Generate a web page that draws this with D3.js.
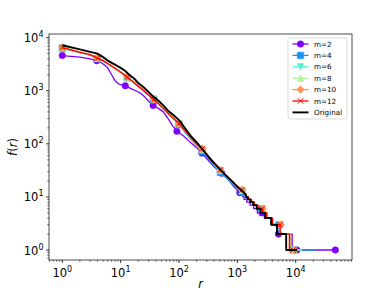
<!DOCTYPE html>
<html lang="en">
<head>
<meta charset="UTF-8">
<title>f(r)</title>
<script src="https://cdn.jsdelivr.net/npm/d3@7/dist/d3.min.js"></script>
<style>
  body { margin: 0; background: #fff; }
  svg text { font-family: "DejaVu Sans", sans-serif; fill: #000; }
</style>
</head>
<body>
<div id="chart"></div>
<script>
// series names and colours (rainbow colormap, 6 steps + black)
var names = ["m=2", "m=4", "m=6", "m=8", "m=10", "m=12", "Original"];
var colors = ["#8000ff", "#1996f3", "#4df3ce", "#b3f396", "#ff964f", "#ff0000", "#000000"];
var shapes = ["o", "s", "v", "^", "D", "x", null];

// head of each rank/frequency curve: [rank, frequency]
var headM2 = [[1,4600],[2,4300],[3,4000],[3.9,3700],[4.3,3550],[5,3200],[6,2700],[7,2000],[8,1550],[9,1380],[10,1300],[12,1240],[15,1100],[18,1000],[22,900],[26,760],[30,640],[36,527],[45,460],[54,400],[65,300],[75,230],[92,175],[120,140],[152,110],[200,85],[246,67],[300,52],[400,37],[540,28],[700,21],[900,15],[1100,12],[1250,11]];
var headM4 = [[1,6300],[2,5200],[3,4700],[4,4000],[5,3600],[6,3150],[8,2600],[10,2200],[13,1750],[17,1380],[20,1200],[25,980],[30,820],[37,670],[45,560],[55,450],[70,340],[85,275],[100,230],[130,160],[160,122],[200,94],[250,72],[340,48],[510,29],[700,21],[900,16],[1200,12.5],[1350,11]];
var headM6 = [[1,6400],[2,5250],[3,4750],[4,4050],[5,3650],[6,3200],[8,2620],[10,2230],[13,1780],[17,1400],[20,1210],[25,1000],[30,840],[37,700],[45,570],[55,455],[70,345],[85,280],[100,236],[130,165],[160,126],[200,97],[250,76],[340,51],[510,31],[700,22],[900,17],[1200,13],[1380,11]];
var headM8 = [[1,6450],[2,5300],[3,4780],[4,4080],[5,3680],[6,3230],[8,2640],[10,2240],[13,1800],[17,1410],[20,1215],[25,1000],[30,835],[37,690],[45,565],[55,455],[70,345],[85,283],[100,240],[130,168],[160,128],[200,99],[250,78],[340,53],[510,31.5],[700,22.5],[900,17.3],[1200,13.3],[1400,11]];
var headM10 = [[1,6600],[2,5400],[3,4800],[4,4200],[5,3700],[6,3300],[8,2700],[10,2250],[13,1850],[17,1450],[20,1250],[25,1020],[30,840],[37,690],[45,570],[55,460],[70,350],[85,290],[100,245],[130,172],[160,132],[200,102],[250,82],[340,55],[510,32],[700,23],[900,17.5],[1200,13.8],[1400,11]];
var headM12 = [[1,6500],[2,5300],[3,4800],[4,4100],[5,3700],[6,3250],[8,2650],[10,2250],[13,1800],[17,1420],[20,1220],[25,1000],[30,830],[37,680],[45,560],[55,455],[70,345],[85,285],[100,240],[130,170],[160,130],[200,100],[250,80],[340,54],[510,32],[700,23],[900,17.5],[1200,13.5],[1400,11]];
var headOrig = [[1,7200],[2,6000],[3,5400],[4,5000],[5,4300],[6,3700],[8,3100],[10,2700],[12,2350],[14,2000],[17,1700],[20,1400],[25,1150],[30,950],[36,780],[45,640],[55,520],[65,420],[80,350],[100,280],[130,190],[160,140],[200,108],[250,80],[340,52],[450,38],[600,27],[800,20],[1000,15.5],[1200,13],[1400,11]];

// last rank holding frequency 10, 9, ..., 1 (integer tail of each curve)
var stepsM2 = [1300,1450,1650,1900,2200,2900,3800,4800,8700,47800];
var stepsM4 = [1450,1650,1850,2150,2600,3100,3900,5200,7900,21600];
var stepsM6 = [1500,1700,1900,2200,2650,3150,3950,5300,8100,13000];
var stepsM8 = [1520,1720,1930,2230,2680,3180,3980,5350,7900,12000];
var stepsM10 = [1550,1750,1980,2280,2750,3250,4050,5500,8000,11000];
var stepsM12 = [1550,1750,1950,2250,2700,3200,4000,5400,7800,10500];
var stepsOrig = [1500,1670,1875,2140,2500,3000,3800,4800,6870,10600];

// marker positions
var marksM2 = [[1,4630],[3.9,3680],[12,1240],[36,527],[92,172],[246,67],[540,28],[1100,12],[2630,5],[5050,2],[10500,1],[47800,1]];
var marksM4 = [[1,6300],[4,4000],[13,1750],[37,670],[100,230],[250,72],[510,29],[1200,12.5],[2600,6],[5200,3],[9000,1]];
var marksM6 = [[1,6400],[4,4050],[13,1780],[37,700],[100,236],[250,76],[510,31],[1200,13],[2620,6],[5300,3],[9100,1]];
var marksM8 = [[1,6450],[4,4080],[13,1800],[37,690],[100,240],[250,78],[510,31.5],[1200,13.3],[2650,6],[5350,3],[9200,1]];
var marksM10 = [[1,6600],[4,4200],[13,1850],[37,690],[100,245],[250,82],[510,32],[1200,13.8],[2700,6],[5500,3],[9500,1]];
var marksM12 = [[1,6500],[4,4100],[13,1800],[37,680],[100,240],[250,80],[510,32],[1200,13.5],[2640,6],[5400,3],[9000,1]];

var heads = [headM2, headM4, headM6, headM8, headM10, headM12, headOrig];
var steps = [stepsM2, stepsM4, stepsM6, stepsM8, stepsM10, stepsM12, stepsOrig];
var marks = [marksM2, marksM4, marksM6, marksM8, marksM10, marksM12, []];

var xTicks = [1, 10, 100, 1000, 10000];
var yTicks = [1, 10, 100, 1000, 10000];

var width = 390, height = 293;
var pLeft = 49, pRight = 352, pTop = 34, pBottom = 260;

var svg = d3.select("#chart").append("svg")
    .attr("width", width)
    .attr("height", height);

var x = d3.scaleLog()
    .domain([Math.pow(10, -0.228), Math.pow(10, 4.965)])
    .range([pLeft, pRight]);
var y = d3.scaleLog()
    .domain([Math.pow(10, -0.188), Math.pow(10, 4.069)])
    .range([pBottom, pTop]);

svg.append("clipPath").attr("id", "clip")
  .append("rect")
    .attr("x", pLeft).attr("y", pTop)
    .attr("width", pRight - pLeft).attr("height", pBottom - pTop);

// build curve: smooth head then integer staircase
function buildPoints(head, st) {
    var pts = head.slice();
    var prev = head[head.length - 1][0];
    for (var i = 0; i < st.length; i++) {
        var f = 10 - i;
        pts.push([prev, f]);
        pts.push([st[i], f]);
        prev = st[i];
    }
    return pts;
}

var line = d3.line()
    .x(function(d) { return x(d[0]); })
    .y(function(d) { return y(d[1]); });

var ms = 6.4;
function markerPath(shape) {
    var h = ms / 2;
    if (shape == "o") return d3.symbol().type(d3.symbolCircle).size(Math.PI * h * h)();
    if (shape == "s") return "M" + (-h) + "," + (-h) + "H" + h + "V" + h + "H" + (-h) + "Z";
    if (shape == "v") return "M0," + h + "L" + (-h) + "," + (-h) + "L" + h + "," + (-h) + "Z";
    if (shape == "^") return "M0," + (-h) + "L" + (-h) + "," + h + "L" + h + "," + h + "Z";
    if (shape == "D") { var d = h * 1.2; return "M0," + (-d) + "L" + d + ",0L0," + d + "L" + (-d) + ",0Z"; }
    if (shape == "x") { var c = h * 0.85; return "M" + (-c) + "," + (-c) + "L" + c + "," + c + "M" + (-c) + "," + c + "L" + c + "," + (-c); }
    return "";
}
function styleMarker(sel, i) {
    if (shapes[i] == "x") {
        sel.attr("fill", "none").attr("stroke", colors[i]).attr("stroke-width", 1);
    } else {
        sel.attr("fill", colors[i]).attr("stroke", colors[i]).attr("stroke-width", 0.6);
    }
}

var gPlot = svg.append("g").attr("clip-path", "url(#clip)");

names.forEach(function(name, i) {
    var g = gPlot.append("g");
    g.append("path")
        .attr("d", line(buildPoints(heads[i], steps[i])))
        .attr("fill", "none")
        .attr("stroke", colors[i])
        .attr("stroke-width", i == 6 ? 1.9 : 1.3)
        .attr("stroke-linejoin", "round");
    g.selectAll(".mk")
        .data(marks[i])
        .enter()
        .append("path")
        .attr("class", "mk")
        .attr("transform", function(d) { return "translate(" + x(d[0]) + "," + y(d[1]) + ")"; })
        .attr("d", markerPath(shapes[i]))
        .call(styleMarker, i);
});

// frame
svg.append("rect")
    .attr("x", pLeft).attr("y", pTop)
    .attr("width", pRight - pLeft).attr("height", pBottom - pTop)
    .attr("fill", "none").attr("stroke", "#222").attr("stroke-width", 0.8);

// minor ticks
function minors(lo, hi) {
    var res = [];
    for (var e = -1; e <= 5; e++) {
        for (var k = 2; k <= 9; k++) {
            var v = k * Math.pow(10, e);
            if (v > lo && v < hi) res.push(v);
        }
    }
    return res;
}
var gx = svg.append("g");
gx.selectAll(".xmaj").data(xTicks).enter().append("line")
    .attr("x1", function(d) { return x(d); }).attr("x2", function(d) { return x(d); })
    .attr("y1", pBottom).attr("y2", pBottom + 3)
    .attr("stroke", "#000").attr("stroke-width", 0.8);
gx.selectAll(".xmin").data(minors(x.domain()[0], x.domain()[1])).enter().append("line")
    .attr("x1", function(d) { return x(d); }).attr("x2", function(d) { return x(d); })
    .attr("y1", pBottom).attr("y2", pBottom + 1.7)
    .attr("stroke", "#000").attr("stroke-width", 0.6);
var xl = gx.selectAll(".xlab").data(xTicks).enter().append("text")
    .attr("x", function(d) { return x(d); })
    .attr("y", 276.5)
    .attr("text-anchor", "middle")
    .style("font-size", "11.5px");
xl.append("tspan").text("10");
xl.append("tspan").attr("dy", -5).style("font-size", "8px")
    .text(function(d) { return Math.round(Math.log10(d)); });

var gy = svg.append("g");
gy.selectAll(".ymaj").data(yTicks).enter().append("line")
    .attr("y1", function(d) { return y(d); }).attr("y2", function(d) { return y(d); })
    .attr("x1", pLeft).attr("x2", pLeft - 3)
    .attr("stroke", "#000").attr("stroke-width", 0.8);
gy.selectAll(".ymin").data(minors(y.domain()[0], y.domain()[1])).enter().append("line")
    .attr("y1", function(d) { return y(d); }).attr("y2", function(d) { return y(d); })
    .attr("x1", pLeft).attr("x2", pLeft - 1.7)
    .attr("stroke", "#000").attr("stroke-width", 0.6);
var yl = gy.selectAll(".ylab").data(yTicks).enter().append("text")
    .attr("x", 43.5)
    .attr("y", function(d) { return y(d) + 4.5; })
    .attr("text-anchor", "end")
    .style("font-size", "11.5px");
yl.append("tspan").text("10");
yl.append("tspan").attr("dy", -5).style("font-size", "8px")
    .text(function(d) { return Math.round(Math.log10(d)); });

// axis labels
svg.append("text")
    .attr("x", (pLeft + pRight) / 2).attr("y", 287.5)
    .attr("text-anchor", "middle")
    .style("font-size", "11.5px").style("font-style", "italic")
    .text("r");
var yt = svg.append("text")
    .attr("transform", "translate(16.5," + ((pTop + pBottom) / 2) + ") rotate(-90)")
    .attr("text-anchor", "middle")
    .style("font-size", "11.5px");
yt.append("tspan").style("font-style", "italic").text("f");
yt.append("tspan").text("(");
yt.append("tspan").style("font-style", "italic").text("r");
yt.append("tspan").text(")");

// legend
var lg = svg.append("g").attr("transform", "translate(288,38)");
lg.append("rect")
    .attr("width", 59).attr("height", 81).attr("rx", 2)
    .attr("fill", "#fff").attr("fill-opacity", 0.8)
    .attr("stroke", "#ccc").attr("stroke-width", 0.7);
names.forEach(function(name, i) {
    var yy = 6 + i * 11.4;
    var row = lg.append("g").attr("transform", "translate(0," + yy + ")");
    row.append("line")
        .attr("x1", 4.5).attr("x2", 20.5)
        .attr("stroke", colors[i]).attr("stroke-width", i == 6 ? 1.9 : 1.3);
    if (shapes[i]) {
        row.append("path")
            .attr("transform", "translate(12.5,0)")
            .attr("d", markerPath(shapes[i]))
            .call(styleMarker, i);
    }
    row.append("text")
        .attr("x", 26).attr("y", 2.6)
        .style("font-size", "7.2px")
        .text(name);
});
</script>
</body>
</html>
